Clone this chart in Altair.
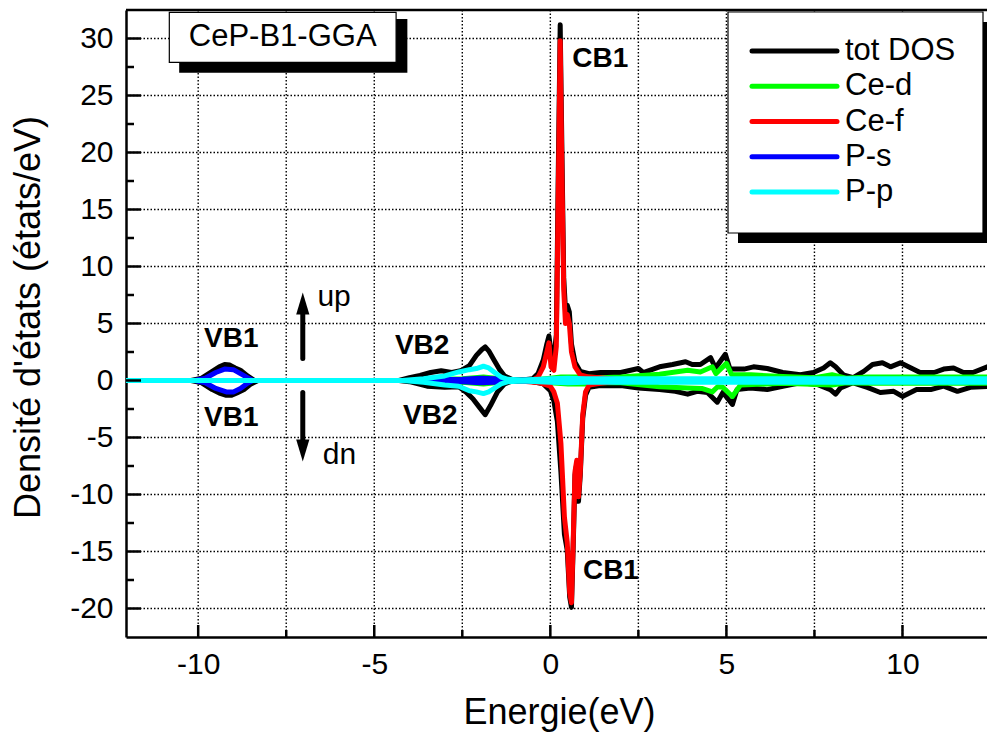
import altair as alt
import pandas as pd

# ---------------- data ----------------
TOT_UP_X = [-12.2, -10.2, -9.9, -9.6, -9.4, -9.25, -9.1, -8.95, -8.8, -8.6, -8.4,
            -4.3, -4.0, -3.7, -3.4, -3.1, -2.8, -2.55, -2.3, -2.1, -1.95, -1.85, -1.75, -1.6, -1.45, -1.3, -1.1, -0.8,
            -0.5, -0.35, -0.2, -0.1, -0.04, 0.02, 0.1, 0.17, 0.22, 0.28, 0.33, 0.38, 0.43, 0.48, 0.54, 0.6, 0.7, 0.85, 1.1,
            1.42, 2.0, 2.5, 2.64, 3.1, 3.47, 3.84, 4.03, 4.26, 4.55, 4.69, 4.97, 5.1, 5.5, 5.77, 6.16, 6.6, 7.1, 7.47,
            7.76, 7.95, 8.1, 8.32, 8.6, 8.9, 9.15, 9.43, 9.66, 9.94, 10.17, 10.5, 10.9, 11.17, 11.45, 11.73, 12.0, 12.5]
TOT_UP_Y = [0, 0, 0.2, 0.8, 1.2, 1.4, 1.35, 1.1, 0.9, 0.4, 0,
            0, 0.25, 0.45, 0.7, 0.85, 0.7, 0.85, 1.3, 2.2, 2.7, 2.95, 2.6, 1.8, 1.0, 0.4, 0.1, 0.05,
            0.15, 0.6, 1.8, 3.2, 3.9, 2.5, 2.0, 4.0, 17.0, 31.2, 20.0, 9.0, 6.2, 6.6, 6.0, 3.2, 1.6, 0.8, 0.6,
            0.7, 0.7, 1.05, 0.7, 1.2, 1.4, 1.65, 1.4, 1.4, 2.0, 1.1, 2.3, 1.0, 1.0, 1.2, 1.05, 0.7, 0.5, 0.7,
            1.1, 1.55, 1.2, 0.5, 0.25, 0.8, 1.4, 1.55, 1.2, 1.55, 1.2, 0.7, 0.7, 1.0, 1.1, 0.7, 0.7, 1.3]

TOT_DN_X = [-12.2, -10.2, -9.9, -9.6, -9.4, -9.2, -9.05, -8.9, -8.7, -8.5, -8.3,
            -4.3, -4.0, -3.5, -3.0, -2.6, -2.4, -2.2, -2.0, -1.85, -1.7, -1.5, -1.3, -1.1, -0.6,
            -0.2, 0.0, 0.1, 0.2, 0.3, 0.4, 0.48, 0.55, 0.6, 0.65, 0.7, 0.75, 0.8, 0.85, 0.92, 1.0, 1.1,
            1.42, 2.0, 2.5, 3.1, 3.55, 3.9, 4.17, 4.46, 4.74, 4.9, 5.17, 5.3, 5.68, 6.16, 6.6, 7.1, 7.58, 7.95,
            8.1, 8.24, 8.6, 9.0, 9.37, 9.75, 10.0, 10.4, 10.8, 11.17, 11.56, 11.93, 12.5]
TOT_DN_Y = [0, 0, -0.2, -0.8, -1.1, -1.3, -1.3, -1.1, -0.8, -0.3, 0,
            0, -0.1, -0.5, -0.6, -0.55, -1.0, -1.6, -2.4, -3.0, -2.2, -1.0, -0.3, -0.05, -0.05,
            -0.3, -0.9, -1.8, -3.6, -8.0, -13.5, -14.9, -19.0, -19.9, -14.5, -8.3, -7.3, -10.6, -8.3, -3.3, -1.3, -0.6,
            -0.45, -0.45, -0.65, -0.8, -0.95, -1.2, -0.95, -1.05, -1.9, -1.05, -2.1, -0.8, -0.65, -0.8, -0.5, -0.2, -0.35, -0.8,
            -1.2, -0.65, -0.2, -0.6, -1.05, -0.95, -1.4, -0.8, -0.8, -0.5, -0.95, -0.6, -0.5]

CED_UP_X = [-12.2, -4.0, -2.5, -1.9, -1.3, -0.5, 0.0, 0.3, 0.6, 1.0, 1.42, 2.0, 3.1, 3.9, 4.26, 4.6, 4.7,
            5.0, 5.15, 5.7, 6.6, 7.5, 8.0, 8.4, 9.0, 12.5]
CED_UP_Y = [0, 0, 0.15, 0.3, 0.1, 0.05, 0.2, 0.3, 0.3, 0.3, 0.25, 0.3, 0.55, 0.9, 0.75, 1.2, 0.6,
            1.5, 0.5, 0.5, 0.35, 0.25, 0.5, 0.2, 0.3, 0.3]
CED_DN_X = [-12.2, -4.0, -2.5, -1.9, -1.3, -0.5, 0.0, 0.5, 1.0, 1.42, 2.0, 3.1, 3.9, 4.3, 4.6, 4.75, 4.9,
            5.17, 5.4, 6.6, 8.0, 8.4, 9.0, 12.5]
CED_DN_Y = [0, 0, -0.15, -0.3, -0.1, -0.05, -0.2, -0.3, -0.3, -0.2, -0.2, -0.55, -0.65, -0.7, -1.0, -0.55, -0.6,
            -1.4, -0.4, -0.25, -0.4, -0.2, -0.25, -0.25]

CEF_UP_X = [-12.2, -2.6, -1.9, -1.3, -1.0, -0.5, -0.35, -0.2, -0.1, -0.04, 0.02, 0.1, 0.17, 0.22, 0.28, 0.33,
            0.38, 0.43, 0.48, 0.54, 0.6, 0.7, 0.85, 1.1, 1.42, 2.0, 12.5]
CEF_UP_Y = [0, 0, 0.2, 0.05, 0, 0.05, 0.3, 1.2, 2.5, 3.3, 1.2, 0.9, 3.0, 15.0, 29.8, 18.0,
            8.0, 5.0, 5.8, 5.0, 2.5, 1.2, 0.5, 0.3, 0.25, 0.05, 0]
CEF_DN_X = [-12.2, -2.6, -1.9, -1.3, -1.0, -0.3, 0.0, 0.1, 0.2, 0.3, 0.4, 0.48, 0.55, 0.6, 0.65, 0.7, 0.75,
            0.8, 0.85, 0.92, 1.0, 1.1, 1.42, 2.0, 12.5]
CEF_DN_Y = [0, 0, -0.2, -0.05, 0, -0.2, -0.5, -1.0, -2.0, -5.5, -12.0, -14.2, -18.6, -19.5, -14.0, -8.0, -7.0,
            -10.2, -8.0, -3.0, -1.0, -0.4, -0.25, -0.05, 0]

PS_UP_X = [-12.2, -10.1, -9.8, -9.5, -9.25, -9.0, -8.8, -8.6, -8.45, -4.0, -2.5, -2.0, -1.6, -1.2, 0.0, 12.5]
PS_UP_Y = [0, 0, 0.2, 0.7, 1.0, 0.95, 0.6, 0.25, 0, 0, 0.1, 0.2, 0.15, 0.05, 0.05, 0.05]
PS_DN_X = [-12.2, -10.1, -9.8, -9.5, -9.2, -9.0, -8.8, -8.6, -8.45, -4.0, -2.5, -2.0, -1.6, -1.2, 0.0, 12.5]
PS_DN_Y = [0, 0, -0.2, -0.7, -1.0, -1.0, -0.7, -0.25, 0, 0, -0.1, -0.2, -0.15, -0.05, -0.05, -0.05]

PP_X = [-12.2, -4.2, -3.6, -3.0, -2.6, -2.3, -2.1, -1.9, -1.75, -1.6, -1.4, -1.2, -0.8, 0.0, 0.5, 1.0, 12.5]
PP_UP_Y = [0, 0, 0.15, 0.4, 0.75, 0.95, 1.05, 1.25, 1.1, 0.75, 0.3, 0.1, 0.05, 0.15, 0.2, 0.15, 0.15]
PP_DN_Y = [0, 0, -0.15, -0.4, -0.5, -0.9, -1.0, -1.15, -1.0, -0.7, -0.3, -0.1, -0.05, -0.15, -0.2, -0.15, -0.15]

SERIES = ["tot DOS", "Ce-d", "Ce-f", "P-s", "P-p"]
COLORS = ["#000000", "#00ff00", "#ff0000", "#0000ff", "#00ffff"]

X_TICKS = [-10, -7.5, -5, -2.5, 0, 2.5, 5, 7.5, 10]
Y_MAJOR = [-20, -15, -10, -5, 0, 5, 10, 15, 20, 25, 30]
Y_MINOR = [-17.5, -12.5, -7.5, -2.5, 2.5, 7.5, 12.5, 17.5, 22.5, 27.5]

# annotations (label, x, y)
BOLD_LABELS = ["CB1", "CB1", "VB1", "VB1", "VB2", "VB2"]
BOLD_X = [1.42, 1.72, -9.06, -9.06, -3.64, -3.41]
BOLD_Y = [28.2, -16.75, 3.6, -3.25, 3.0, -3.15]
SPIN_LABELS = ["up", "dn"]
SPIN_X = [-6.14, -5.99]
SPIN_Y = [7.3, -6.5]
ARROW_X = [-7.03, -7.03]
ARROW_FROM = [1.93, -1.05]
ARROW_TO = [6.3, -5.7]
ARROW_HEAD = [6.75, -6.14]
BOX_TEXT = "CeP-B1-GGA"
BOX_X = [-10.82, -4.38]
BOX_Y = [27.9, 32.3]
BOX_SHADOW_X = [-10.54, -4.06]
BOX_SHADOW_Y = [27.0, 31.7]

# ---------------- layout / style ----------------
W, H = 861, 627
FONT = "Liberation Sans"
LW = 5

curves = {
    "tot DOS": [(TOT_UP_X, TOT_UP_Y), (TOT_DN_X, TOT_DN_Y)],
    "Ce-d": [(CED_UP_X, CED_UP_Y), (CED_DN_X, CED_DN_Y)],
    "Ce-f": [(CEF_UP_X, CEF_UP_Y), (CEF_DN_X, CEF_DN_Y)],
    "P-s": [(PS_UP_X, PS_UP_Y), (PS_DN_X, PS_DN_Y)],
    "P-p": [(PP_X, PP_UP_Y), (PP_X, PP_DN_Y)],
}

xscale = alt.Scale(domain=[-12.05, 12.4], nice=False, zero=False)
yscale = alt.Scale(domain=[-22.5, 32.5], nice=False, zero=False)

xaxis = alt.Axis(values=X_TICKS, grid=False, ticks=False, tickSize=0,
                 labelExpr="abs(datum.value % 5) < 0.001 ? '' + datum.value : ''",
                 title="Energie(eV)", titleX=433, titleY=75, titleBaseline="middle",
                 labelPadding=12)
yaxis = alt.Axis(values=Y_MAJOR, grid=False, ticks=False, tickSize=0,
                 labelExpr="'' + datum.value",
                 title="Densité d'états (états/eV)", titleX=-98, titleY=307,
                 titleAngle=270, titleBaseline="middle", titleAlign="center",
                 labelPadding=13)

X = alt.X("x:Q", scale=xscale, axis=xaxis)
Y = alt.Y("y:Q", scale=yscale, axis=yaxis)

layers = []

# dotted grid
GRID = dict(color="black", strokeWidth=1.4, strokeDash=[1.5, 2])
layers.append(alt.Chart(pd.DataFrame({"x": X_TICKS})).mark_rule(**GRID)
              .encode(x=X, y=alt.value(0), y2=alt.value(H)))
layers.append(alt.Chart(pd.DataFrame({"y": Y_MAJOR})).mark_rule(**GRID)
              .encode(y=Y, x=alt.value(0), x2=alt.value(W)))

# DOS curves
for name, color in zip(SERIES, COLORS):
    rows = []
    for spin, (xs, ys) in zip(["up", "dn"], curves[name]):
        assert len(xs) == len(ys), name
        for i, (a, b) in enumerate(zip(xs, ys)):
            rows.append({"x": a, "y": b, "spin": spin, "i": i})
    df = pd.DataFrame(rows)
    layers.append(
        alt.Chart(df).mark_line(color=color, strokeWidth=LW, clip=True,
                                strokeJoin="round", strokeCap="round")
        .encode(x=X, y=Y, detail="spin:N", order="i:Q")
    )

# inside ticks
xt = pd.DataFrame({"x": X_TICKS})
xt["major"] = [abs(v % 5) < 1e-9 for v in X_TICKS]
layers.append(alt.Chart(xt[xt.major]).mark_rule(color="black", strokeWidth=2.5)
              .encode(x=X, y=alt.value(H - 12), y2=alt.value(H)))
layers.append(alt.Chart(xt[~xt.major]).mark_rule(color="black", strokeWidth=2.5)
              .encode(x=X, y=alt.value(H - 7), y2=alt.value(H)))
layers.append(alt.Chart(pd.DataFrame({"y": Y_MAJOR})).mark_rule(color="black", strokeWidth=2.5)
              .encode(y=Y, x=alt.value(0), x2=alt.value(15)))
layers.append(alt.Chart(pd.DataFrame({"y": Y_MINOR})).mark_rule(color="black", strokeWidth=2.5)
              .encode(y=Y, x=alt.value(0), x2=alt.value(8)))

# top frame line
one = pd.DataFrame({"a": [0]})
layers.append(alt.Chart(one).mark_rule(color="black", strokeWidth=2.5)
              .encode(x=alt.value(0), x2=alt.value(W), y=alt.value(0)))

# annotation labels
layers.append(alt.Chart(pd.DataFrame({"x": BOLD_X, "y": BOLD_Y, "t": BOLD_LABELS}))
              .mark_text(fontWeight="bold", fontSize=28, font=FONT, color="black",
                         align="center", baseline="middle")
              .encode(x=X, y=Y, text="t:N"))
layers.append(alt.Chart(pd.DataFrame({"x": SPIN_X, "y": SPIN_Y, "t": SPIN_LABELS}))
              .mark_text(fontSize=30, font=FONT, color="black", align="center", baseline="middle")
              .encode(x=X, y=Y, text="t:N"))

# arrows
arr = pd.DataFrame({"x": ARROW_X, "y": ARROW_FROM, "y2": ARROW_TO})
layers.append(alt.Chart(arr).mark_rule(color="black", strokeWidth=5, strokeCap="round")
              .encode(x=X, y=Y, y2="y2:Q"))
layers.append(alt.Chart(pd.DataFrame({"x": ARROW_X[:1], "y": ARROW_HEAD[:1]}))
              .mark_point(shape="M0,-1L0.6,1L-0.6,1Z", filled=True, color="black", opacity=1, size=484)
              .encode(x=X, y=Y))
layers.append(alt.Chart(pd.DataFrame({"x": ARROW_X[1:], "y": ARROW_HEAD[1:]}))
              .mark_point(shape="M0,1L0.6,-1L-0.6,-1Z", filled=True, color="black", opacity=1, size=484)
              .encode(x=X, y=Y))

# title box
layers.append(alt.Chart(pd.DataFrame({"x": [BOX_SHADOW_X[0]], "x2": [BOX_SHADOW_X[1]],
                                      "y": [BOX_SHADOW_Y[0]], "y2": [BOX_SHADOW_Y[1]]}))
              .mark_rect(color="black").encode(x=X, x2="x2:Q", y=Y, y2="y2:Q"))
layers.append(alt.Chart(pd.DataFrame({"x": [BOX_X[0]], "x2": [BOX_X[1]],
                                      "y": [BOX_Y[0]], "y2": [BOX_Y[1]]}))
              .mark_rect(fill="white", stroke="black", strokeWidth=1.2)
              .encode(x=X, x2="x2:Q", y=Y, y2="y2:Q"))
layers.append(alt.Chart(pd.DataFrame({"x": [(BOX_X[0] + BOX_X[1]) / 2], "y": [(BOX_Y[0] + BOX_Y[1]) / 2],
                                      "t": [BOX_TEXT]}))
              .mark_text(fontSize=31, font=FONT, color="black", align="center", baseline="middle")
              .encode(x=X, y=Y, text="t:N"))

# legend (drawn by hand: box with shadow, line samples, labels)
LEG_L, LEG_R, LEG_T, LEG_B = 602, 857, 2, 223
SH = 10
LEG_LINE_L, LEG_LINE_R, LEG_TEXT_X = 626, 711, 719
LEG_ROW0, LEG_ROW = 41, 35.25
layers.append(alt.Chart(one).mark_rect(color="black")
              .encode(x=alt.value(LEG_L + SH), x2=alt.value(LEG_R + SH),
                      y=alt.value(LEG_T + SH), y2=alt.value(LEG_B + SH)))
layers.append(alt.Chart(one).mark_rect(fill="white", stroke="black", strokeWidth=1.2)
              .encode(x=alt.value(LEG_L), x2=alt.value(LEG_R),
                      y=alt.value(LEG_T), y2=alt.value(LEG_B)))
for k, (name, color) in enumerate(zip(SERIES, COLORS)):
    yy = LEG_ROW0 + k * LEG_ROW
    layers.append(alt.Chart(one).mark_rule(color=color, strokeWidth=LW, strokeCap="round")
                  .encode(x=alt.value(LEG_LINE_L), x2=alt.value(LEG_LINE_R), y=alt.value(yy)))
    layers.append(alt.Chart(pd.DataFrame({"t": [name]}))
                  .mark_text(fontSize=31, font=FONT, color="black", align="left", baseline="middle")
                  .encode(x=alt.value(LEG_TEXT_X), y=alt.value(yy), text="t:N"))

chart = (
    alt.layer(*layers)
    .properties(width=W, height=H, autosize=alt.AutoSizeParams(type="none"),
                padding={"left": 126, "top": 10, "right": 0, "bottom": 96},
                background="white")
    .configure_view(stroke=None)
    .configure_axis(domainColor="black", domainWidth=2.5, labelFont=FONT, labelFontSize=30,
                    labelColor="black", titleFont=FONT, titleFontSize=36, titleFontWeight="normal",
                    titleColor="black")
)

chart.save("out.html", embed_options={"renderer": "svg", "actions": False})
